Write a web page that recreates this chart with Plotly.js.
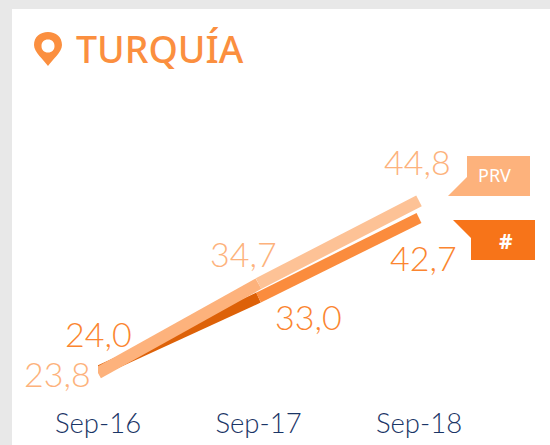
<!DOCTYPE html>
<html><head><meta charset="utf-8">
<script src="https://cdn.plot.ly/plotly-3.0.1.min.js"></script>
<style>html,body{margin:0;padding:0;background:#e8e8e8;overflow:hidden}#c{width:550px;height:445px}</style>
</head><body><div id="c"></div>
<script>
var categories = ['Sep-16','Sep-17','Sep-18'];
var prvValues = [23.8,34.7,44.8];
var actValues = [24.0,33.0,42.7];
var prvLabels = ['23,8','34,7','44,8'];
var actLabels = ['24,0','33,0','42,7'];
var title = 'TURQUÍA';

var W=550,H=445,L=98,B=44,unit=160.5;
var PW=W-L,PH=H-B;
var C={act1:'#dd6108',act2:'#fb8c3d',prv1:'#fdb27c',prv2:'#fdc296',prvLab:'#fdb27c',actLab:'#fb8530',tag:'#fdb27c',tag2:'#f77419',axis:'#1a3566'};
function fx(x){return ((x-L)/PW).toFixed(5);}
function fy(y){return ((PH-y)/PH).toFixed(5);}
function poly(pts){return 'M'+pts.map(function(p){return fx(p[0])+','+fy(p[1]);}).join(' L')+' Z';}
function seg(vals,i,color,w){return {type:'scatter',mode:'lines',x:categories.slice(i,i+2),y:vals.slice(i,i+2),line:{color:color,width:w,shape:'linear'},hoverinfo:'skip',showlegend:false};}
var traces=[seg(actValues,0,C.act1,11),seg(actValues,1,C.act2,11),seg(prvValues,0,C.prv1,12),seg(prvValues,1,C.prv2,12)];
function P(x,y){return fx(x)+','+fy(y);}
var pin='M'+P(48,66)+' C'+P(44,60)+' '+P(34,52)+' '+P(34,45)+' C'+P(34,37)+' '+P(40,32)+' '+P(48,32)+' C'+P(56,32)+' '+P(62,37)+' '+P(62,45)+' C'+P(62,52)+' '+P(52,60)+' '+P(48,66)+' Z '+
 'M'+P(48,39.5)+' C'+P(44,39.5)+' '+P(41.5,42)+' '+P(41.5,46)+' C'+P(41.5,50)+' '+P(44,52.5)+' '+P(48,52.5)+' C'+P(52,52.5)+' '+P(54.5,50)+' '+P(54.5,46)+' C'+P(54.5,42)+' '+P(52,39.5)+' '+P(48,39.5)+' Z';
function rectS(path,color,layer){return {type:'path',xref:'paper',yref:'paper',path:path,fillcolor:color,line:{width:0},layer:layer||'below'};}
var shapes=[
 rectS(poly([[12,9],[550,9],[550,445],[12,445]]),'#ffffff'),
 rectS(pin,'#fb8f3f'),
 rectS(poly([[467,156],[530,156],[530,196],[448,196],[467,177]]),C.tag),
 rectS(poly([[453,220],[535,220],[535,260],[471,260],[471,238]]),C.tag2)
];
function lab(i,vals,txt,color,dx,dy){return {xref:'x',yref:'y',x:categories[i],y:vals[i],text:txt,showarrow:false,xanchor:'center',yanchor:'middle',xshift:dx,yshift:dy,font:{family:'Lato, sans-serif',size:34,color:color,weight:300}};}
var ann=[
 lab(0,prvValues,prvLabels[0],C.prvLab,-41,0),
 lab(1,prvValues,prvLabels[1],C.prvLab,-15,30),
 lab(2,prvValues,prvLabels[2],C.prvLab,-2,39),
 lab(0,actValues,actLabels[0],C.actLab,0,38),
 lab(1,actValues,actLabels[1],C.actLab,50,-19),
 lab(2,actValues,actLabels[2],C.actLab,4,-39),
 {xref:'paper',yref:'paper',x:fx(74),y:fy(49),xanchor:'left',yanchor:'middle',showarrow:false,text:title,font:{family:'Noto Sans, sans-serif',size:37.5,color:'#fb8f3f',weight:500}},
 {xref:'paper',yref:'paper',x:fx(494),y:fy(175),xanchor:'center',yanchor:'middle',showarrow:false,text:'PRV',font:{family:'Noto Sans, sans-serif',size:18,color:'#ffffff'}},
 {xref:'paper',yref:'paper',x:fx(506),y:fy(241),xanchor:'center',yanchor:'middle',showarrow:false,text:'#',font:{family:'Noto Sans, sans-serif',size:21,color:'#ffffff',weight:700}}
];
var layout={width:W,height:H,margin:{l:L,r:0,t:0,b:B,pad:0},paper_bgcolor:'rgba(0,0,0,0)',plot_bgcolor:'rgba(0,0,0,0)',showlegend:false,
 xaxis:{type:'category',categories:categories,range:[0,PW/unit],showgrid:false,zeroline:false,showline:false,ticks:'',tickmode:'array',tickvals:categories,ticktext:categories,ticklabelstandoff:3,tickfont:{family:'Lato, sans-serif',size:27.5,color:C.axis,weight:300},fixedrange:true},
 yaxis:{range:[23.8-(PH-373)/8.2,23.8+373/8.2],visible:false,fixedrange:true},
 shapes:shapes,annotations:ann};
Plotly.newPlot('c',traces,layout,{displayModeBar:false,staticPlot:true});
</script></body></html>
